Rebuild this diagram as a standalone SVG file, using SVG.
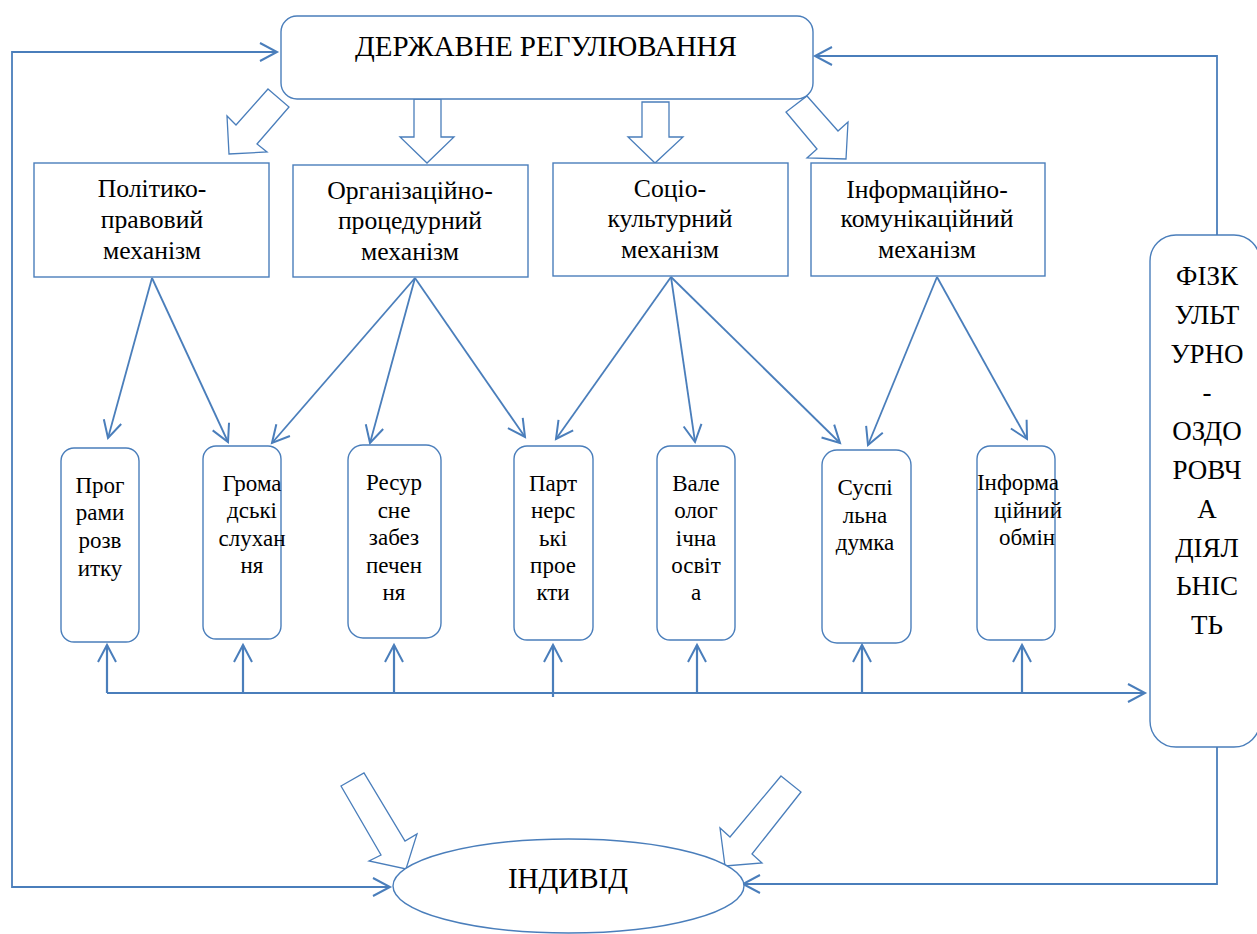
<svg xmlns="http://www.w3.org/2000/svg" width="1257" height="934" viewBox="0 0 1257 934">
<style>
.box{fill:#fff;stroke:#4a7ebb;stroke-width:1.4}
.blk{fill:#fff;stroke:#4a7ebb;stroke-width:1.3;stroke-linejoin:miter}
.c{fill:none;stroke:#4a7ebb;stroke-width:1.8}
.b{fill:none;stroke:#4a7ebb;stroke-width:2.2}
text{font-family:'Liberation Serif','DejaVu Serif',serif;fill:#000;text-anchor:middle}
.mt{font-size:25.7px}
.st{font-size:23px}
</style>
<defs>
<marker id="ah" markerUnits="userSpaceOnUse" markerWidth="24" markerHeight="24" viewBox="0 0 24 24" refX="20" refY="12" orient="auto">
<path d="M3,3 L20,12 L3,21" fill="none" stroke="#4a7ebb" stroke-width="2"/>
</marker>
</defs>
<rect width="1257" height="934" fill="#fff"/>

<g id="connectors">
<polyline class="c" points="277,52 12,52 12,887 390,887" marker-end="url(#ah)"/>
<line class="c" x1="12" y1="52" x2="277" y2="52" marker-end="url(#ah)"/>
<polyline class="c" points="1217,235 1217,56 815,56" marker-end="url(#ah)"/>
<polyline class="c" points="1217,747 1217,884 743,884" marker-end="url(#ah)"/>
<line class="c" x1="152" y1="278" x2="108" y2="438" marker-end="url(#ah)"/>
<line class="c" x1="152" y1="278" x2="228" y2="442" marker-end="url(#ah)"/>
<line class="c" x1="415" y1="278" x2="272" y2="443" marker-end="url(#ah)"/>
<line class="c" x1="415" y1="278" x2="370" y2="443" marker-end="url(#ah)"/>
<line class="c" x1="415" y1="278" x2="525" y2="437" marker-end="url(#ah)"/>
<line class="c" x1="671" y1="277" x2="556" y2="439" marker-end="url(#ah)"/>
<line class="c" x1="671" y1="277" x2="695" y2="442" marker-end="url(#ah)"/>
<line class="c" x1="671" y1="277" x2="840" y2="443" marker-end="url(#ah)"/>
<line class="c" x1="937" y1="277" x2="868" y2="445" marker-end="url(#ah)"/>
<line class="c" x1="937" y1="277" x2="1027" y2="439" marker-end="url(#ah)"/>
<line class="b" x1="107" y1="693" x2="1145" y2="693" marker-end="url(#ah)"/>
<line class="b" x1="107" y1="693" x2="107" y2="645" marker-end="url(#ah)"/>
<line class="b" x1="243" y1="693" x2="243" y2="645" marker-end="url(#ah)"/>
<line class="b" x1="394" y1="693" x2="394" y2="645" marker-end="url(#ah)"/>
<line class="b" x1="553" y1="697" x2="553" y2="645" marker-end="url(#ah)"/>
<line class="b" x1="697" y1="693" x2="697" y2="645" marker-end="url(#ah)"/>
<line class="b" x1="862" y1="693" x2="862" y2="645" marker-end="url(#ah)"/>
<line class="b" x1="1022" y1="693" x2="1022" y2="645" marker-end="url(#ah)"/>
<polygon class="blk" points="268,89 289,107 257,144 267,152 229,154 227,116 236,125"/>
<polygon class="blk" points="414,99 441,99 441,137 454,137 427,163 400,137 414,137"/>
<polygon class="blk" points="642,102 669,102 669,137 683,137 655,163 628,137 642,137"/>
<polygon class="blk" points="807,96 838,131 848,122 846,159 807,158 817,149 786,112"/>
<polygon class="blk" points="341,786 364,773 405,841 417,834 406,869 369,861 381,855"/>
<polygon class="blk" points="781,776 801,792 752,854 762,863 725,866 720,828 730,837"/>
</g>

<g id="state">
<rect class="box" x="281" y="16" width="532" height="83" rx="16"/>
<text x="546" y="56" font-size="29">ДЕРЖАВНЕ РЕГУЛЮВАННЯ</text>
</g>

<g id="mech1">
<rect class="box" x="34" y="163" width="235" height="114"/>
<text class="mt"><tspan x="152" y="197">Політико-</tspan><tspan x="152" y="228">правовий</tspan><tspan x="152" y="259">механізм</tspan></text>
</g>
<g id="mech2">
<rect class="box" x="293" y="165" width="235" height="112"/>
<text class="mt"><tspan x="410" y="199">Організаційно-</tspan><tspan x="410" y="229">процедурний</tspan><tspan x="410" y="260">механізм</tspan></text>
</g>
<g id="mech3">
<rect class="box" x="553" y="163" width="235" height="113"/>
<text class="mt"><tspan x="670" y="197">Соціо-</tspan><tspan x="670" y="227">культурний</tspan><tspan x="670" y="258">механізм</tspan></text>
</g>
<g id="mech4">
<rect class="box" x="811" y="163" width="234" height="113"/>
<text class="mt"><tspan x="927" y="198">Інформаційно-</tspan><tspan x="927" y="227">комунікаційний</tspan><tspan x="927" y="258">механізм</tspan></text>
</g>

<g id="n1">
<rect class="box" x="61" y="448" width="78" height="194" rx="13"/>
<text class="st"><tspan x="100" y="493">Прог</tspan><tspan x="100" y="520">рами</tspan><tspan x="100" y="548">розв</tspan><tspan x="100" y="576">итку</tspan></text>
</g>
<g id="n2">
<rect class="box" x="203" y="446" width="78" height="193" rx="13"/>
<text class="st"><tspan x="252" y="491">Грома</tspan><tspan x="252" y="518">дські</tspan><tspan x="252" y="546">слухан</tspan><tspan x="252" y="573">ня</tspan></text>
</g>
<g id="n3">
<rect class="box" x="348" y="445" width="93" height="193" rx="15"/>
<text class="st"><tspan x="394" y="490">Ресур</tspan><tspan x="394" y="518">сне</tspan><tspan x="394" y="545">забез</tspan><tspan x="394" y="573">печен</tspan><tspan x="394" y="600">ня</tspan></text>
</g>
<g id="n4">
<rect class="box" x="514" y="446" width="79" height="194" rx="13"/>
<text class="st"><tspan x="553" y="491">Парт</tspan><tspan x="553" y="518">нерс</tspan><tspan x="553" y="546">ькі</tspan><tspan x="553" y="573">прое</tspan><tspan x="553" y="600">кти</tspan></text>
</g>
<g id="n5">
<rect class="box" x="657" y="446" width="78" height="194" rx="13"/>
<text class="st"><tspan x="696" y="491">Вале</tspan><tspan x="696" y="518">олог</tspan><tspan x="696" y="546">ічна</tspan><tspan x="696" y="573">освіт</tspan><tspan x="696" y="600">а</tspan></text>
</g>
<g id="n6">
<rect class="box" x="822" y="450" width="89" height="193" rx="15"/>
<text class="st"><tspan x="865" y="495">Суспі</tspan><tspan x="865" y="523">льна</tspan><tspan x="865" y="550">думка</tspan></text>
</g>
<g id="n7">
<rect class="box" x="977" y="446" width="78" height="194" rx="13"/>
<text class="st"><tspan x="1018" y="490">Інформа</tspan><tspan x="1028" y="518">ційний</tspan><tspan x="1027" y="545">обмін</tspan></text>
</g>

<g id="fiz">
<rect class="box" x="1150" y="235" width="110" height="512" rx="26"/>
<text font-size="27"><tspan x="1207" y="285">ФІЗК</tspan><tspan x="1207" y="324">УЛЬТ</tspan><tspan x="1207" y="363">УРНО</tspan><tspan x="1207" y="401">-</tspan><tspan x="1207" y="440">ОЗДО</tspan><tspan x="1207" y="479">РОВЧ</tspan><tspan x="1207" y="518">А</tspan><tspan x="1207" y="557">ДІЯЛ</tspan><tspan x="1207" y="595">ЬНІС</tspan><tspan x="1207" y="634">ТЬ</tspan></text>
</g>

<g id="individ">
<ellipse class="box" cx="568.5" cy="886" rx="175.5" ry="47"/>
<text x="568" y="888" font-size="29">ІНДИВІД</text>
</g>
</svg>
